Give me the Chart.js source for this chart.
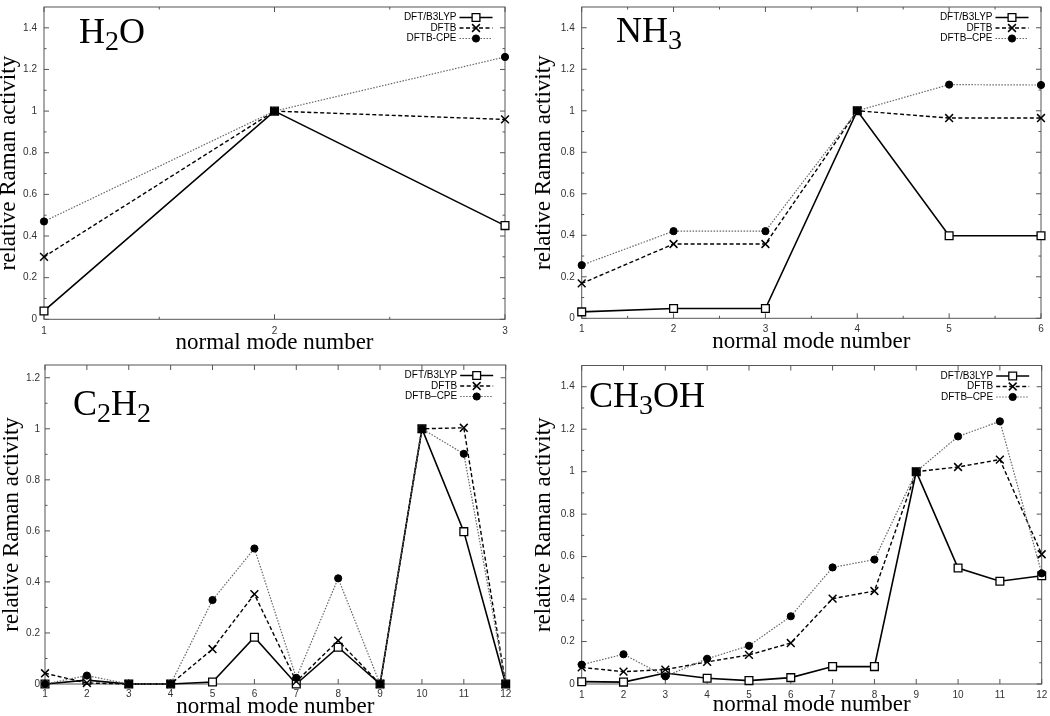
<!DOCTYPE html>
<html lang="en">
<head>
<meta charset="UTF-8">
<title>Relative Raman activity</title>
<script src="https://cdn.jsdelivr.net/npm/chart.js"></script>
<style>
    body { margin: 0; background: #fff; width: 1050px; height: 716px; position: relative; overflow: hidden; }
    canvas { position: absolute; }
    .mol { position: absolute; font-family: "Liberation Serif", "DejaVu Serif", serif; font-size: 36px; line-height: 1; color: #000; white-space: nowrap; }
    .mol span { font-size: 0.78em; position: relative; top: 0.25em; }
</style>
</head>
<body>
<canvas id="h2o" width="525" height="358" style="left:0;top:0"></canvas>
<canvas id="nh3" width="525" height="358" style="left:525px;top:0"></canvas>
<canvas id="c2h2" width="525" height="358" style="left:0;top:358px"></canvas>
<canvas id="ch3oh" width="525" height="358" style="left:525px;top:358px"></canvas>

<div class="mol" style="left:79px;top:12.6px">H<span>2</span>O</div>
<div class="mol" style="left:616px;top:11.6px">NH<span>3</span></div>
<div class="mol" style="left:73px;top:385.2px">C<span>2</span>H<span>2</span></div>
<div class="mol" style="left:589px;top:377.2px">CH<span>3</span>OH</div>

<script>
// series names (first panel uses a plain hyphen, the others a dash)
const namesH2O = ['DFT/B3LYP', 'DFTB', 'DFTB-CPE'];
const namesOther = ['DFT/B3LYP', 'DFTB', 'DFTB\u2013CPE'];

const yTicks14 = [0, 0.2, 0.4, 0.6, 0.8, 1, 1.2, 1.4];
const yTicks12 = [0, 0.2, 0.4, 0.6, 0.8, 1, 1.2];

// H2O
const h2oModes = [1, 2, 3];
const h2oB3lyp = [0.04, 1.0, 0.45];
const h2oDftb = [0.30, 1.0, 0.96];
const h2oCpe = [0.47, 1.0, 1.26];

// NH3
const nh3Modes = [1, 2, 3, 4, 5, 6];
const nh3B3lyp = [0.031, 0.047, 0.047, 1.0, 0.398, 0.398];
const nh3Dftb = [0.168, 0.358, 0.358, 1.0, 0.965, 0.965];
const nh3Cpe = [0.256, 0.42, 0.42, 1.0, 1.126, 1.124];

// C2H2
const c2h2Modes = [1, 2, 3, 4, 5, 6, 7, 8, 9, 10, 11, 12];
const c2h2B3lyp = [0, 0.015, 0, 0, 0.008, 0.183, 0, 0.144, 0, 1.0, 0.597, 0];
const c2h2Dftb = [0.042, 0.004, 0, 0, 0.137, 0.352, 0.01, 0.17, 0, 1.0, 1.004, 0];
const c2h2Cpe = [0, 0.033, 0, 0, 0.329, 0.531, 0.024, 0.414, 0, 1.0, 0.902, 0];

// CH3OH
const ch3ohModes = [1, 2, 3, 4, 5, 6, 7, 8, 9, 10, 11, 12];
const ch3ohB3lyp = [0.011, 0.009, 0.052, 0.027, 0.016, 0.03, 0.082, 0.082, 1.0, 0.546, 0.484, 0.51];
const ch3ohDftb = [0.078, 0.058, 0.068, 0.104, 0.137, 0.193, 0.402, 0.438, 1.0, 1.022, 1.057, 0.611];
const ch3ohCpe = [0.091, 0.14, 0.036, 0.119, 0.18, 0.319, 0.549, 0.586, 1.0, 1.166, 1.237, 0.521];

Chart.defaults.font.family = '"Liberation Sans", Arial, sans-serif';
Chart.defaults.color = '#222';

const serif = '"Liberation Serif", "DejaVu Serif", serif';

// gnuplot-like frame with inward ticks, plus the little legend in the corner
const gnuFrame = {
    id: 'gnuFrame',
    beforeDatasetsDraw(chart, args, opts) {
        const { ctx, chartArea: a, scales: { x, y } } = chart;
        ctx.save();
        ctx.strokeStyle = '#555';
        ctx.lineWidth = 1;
        ctx.setLineDash([]);
        ctx.strokeRect(a.left, a.top, a.right - a.left, a.bottom - a.top);
        ctx.beginPath();
        const yMark = (v, len) => {
            const p = y.getPixelForValue(v);
            ctx.moveTo(a.left, p); ctx.lineTo(a.left + len, p);
            ctx.moveTo(a.right, p); ctx.lineTo(a.right - len, p);
        };
        const xMark = (v, len) => {
            const p = x.getPixelForValue(v);
            ctx.moveTo(p, a.bottom); ctx.lineTo(p, a.bottom - len);
            ctx.moveTo(p, a.top); ctx.lineTo(p, a.top + len);
        };
        y.ticks.forEach(t => yMark(t.value, 5));
        x.ticks.forEach(t => xMark(t.value, 5));
        if (opts.minorY) {
            for (let v = opts.minorY; v < y.max - 1e-6; v += 2 * opts.minorY) yMark(v, 2.5);
        }
        if (opts.minorX) {
            for (let v = x.min + opts.minorX; v < x.max - 1e-6; v += 2 * opts.minorX) xMark(v, 2.5);
        }
        ctx.stroke();
        ctx.restore();
    },
    afterDatasetsDraw(chart) {
        const { ctx, chartArea: a } = chart;
        const sampleRight = a.right - 12.5;
        const sampleLeft = sampleRight - 33;
        const mid = (sampleLeft + sampleRight) / 2;
        ctx.save();
        ctx.font = '10px "Liberation Sans", Arial, sans-serif';
        ctx.textAlign = 'right';
        ctx.textBaseline = 'middle';
        chart.data.datasets.forEach((ds, i) => {
            const yy = a.top + 10.5 + i * 10.5;
            ctx.fillStyle = '#000';
            ctx.fillText(ds.label, sampleLeft - 3, yy);
            ctx.beginPath();
            ctx.setLineDash(ds.borderDash || []);
            ctx.strokeStyle = ds.borderColor;
            ctx.lineWidth = ds.borderWidth;
            ctx.moveTo(sampleLeft, yy);
            ctx.lineTo(sampleRight, yy);
            ctx.stroke();
            ctx.setLineDash([]);
            ctx.strokeStyle = ds.pointBorderColor;
            ctx.fillStyle = ds.pointBackgroundColor;
            ctx.lineWidth = ds.pointBorderWidth;
            const r = ds.pointRadius;
            ctx.beginPath();
            if (ds.pointStyle === 'rect') {
                const s = r * Math.SQRT1_2;
                ctx.rect(mid - s, yy - s, 2 * s, 2 * s);
                ctx.fill(); ctx.stroke();
            } else if (ds.pointStyle === 'crossRot') {
                const s = r * Math.SQRT1_2;
                ctx.moveTo(mid - s, yy - s); ctx.lineTo(mid + s, yy + s);
                ctx.moveTo(mid - s, yy + s); ctx.lineTo(mid + s, yy - s);
                ctx.stroke();
            } else {
                ctx.arc(mid, yy, r, 0, Math.PI * 2);
                ctx.fill(); ctx.stroke();
            }
        });
        ctx.restore();
    }
};

function points(modes, vals) {
    return modes.map((m, i) => ({ x: m, y: vals[i] }));
}

function makePanel(id, names, modes, b3lyp, dftb, cpe, yTicks, p) {
    const datasets = [
        {
            label: names[0], data: points(modes, b3lyp), order: 2,
            borderColor: '#000', borderWidth: 1.6,
            pointStyle: 'rect', pointRadius: 5.5, pointBorderWidth: 1.3,
            pointBackgroundColor: '#fff', pointBorderColor: '#000'
        },
        {
            label: names[1], data: points(modes, dftb), order: 1,
            borderColor: '#000', borderWidth: 1.4, borderDash: [4, 2.5],
            pointStyle: 'crossRot', pointRadius: 5.5, pointBorderWidth: 1.5,
            pointBackgroundColor: '#000', pointBorderColor: '#000'
        },
        {
            label: names[2], data: points(modes, cpe), order: 0,
            borderColor: '#666', borderWidth: 1.2, borderDash: [1.5, 1.5],
            pointStyle: 'circle', pointRadius: 3.6, pointBorderWidth: 1,
            pointBackgroundColor: '#000', pointBorderColor: '#000'
        }
    ];
    datasets.forEach(ds => { ds.clip = false; ds.tension = 0; ds.fill = false; });

    new Chart(document.getElementById(id), {
        type: 'line',
        data: { datasets },
        options: {
            responsive: false,
            animation: false,
            events: [],
            layout: { padding: { left: 0, right: p.padRight, top: p.padTop, bottom: 0 } },
            plugins: {
                legend: { display: false },
                tooltip: { enabled: false },
                gnuFrame: { minorX: p.minorX, minorY: 0.1 }
            },
            scales: {
                x: {
                    type: 'linear',
                    min: modes[0],
                    max: modes[modes.length - 1],
                    grid: { display: false, drawTicks: false },
                    border: { display: false },
                    afterBuildTicks: s => { s.ticks = modes.map(v => ({ value: v })); },
                    afterFit: s => { s.height = p.xHeight; s.paddingLeft = 0; s.paddingRight = 0; },
                    ticks: {
                        font: { size: 10 }, color: '#333', padding: p.xTickPad, maxRotation: 0, autoSkip: false,
                        callback: v => String(v)
                    },
                    title: {
                        display: true, text: 'normal mode number', color: '#000',
                        font: { family: serif, size: 23, lineHeight: 1 },
                        padding: { top: 0, bottom: p.xTitlePad }
                    }
                },
                y: {
                    min: 0,
                    max: p.yMax,
                    grid: { display: false, drawTicks: false },
                    border: { display: false },
                    afterBuildTicks: s => { s.ticks = yTicks.map(v => ({ value: v })); },
                    afterFit: s => { s.width = p.yWidth; s.paddingTop = 0; s.paddingBottom = 0; },
                    ticks: {
                        font: { size: 10 }, color: '#333', padding: p.yTickPad,
                        callback: v => String(Number(v.toFixed(2)))
                    },
                    title: {
                        display: true, text: 'relative Raman activity', color: '#000',
                        font: { family: serif, size: 23, lineHeight: 1 },
                        padding: { top: p.yTitlePad, bottom: 0 }
                    }
                }
            }
        },
        plugins: [gnuFrame]
    });
}

makePanel('h2o', namesH2O, h2oModes, h2oB3lyp, h2oDftb, h2oCpe, yTicks14, {
    yMax: 1.5, yWidth: 44, xHeight: 38.7, padRight: 20, padTop: 1,
    yTickPad: 7, xTickPad: 5.5, yTitlePad: -2.6, xTitlePad: 3.3, minorX: 0.5
});
makePanel('nh3', namesOther, nh3Modes, nh3B3lyp, nh3Dftb, nh3Cpe, yTicks14, {
    yMax: 1.5, yWidth: 56.7, xHeight: 39.7, padRight: 9, padTop: 0.3,
    yTickPad: 7, xTickPad: 4.5, yTitlePad: 7.7, xTitlePad: 4.3, minorX: 0.5
});
makePanel('c2h2', namesOther, c2h2Modes, c2h2B3lyp, c2h2Dftb, c2h2Cpe, yTicks12, {
    yMax: 1.25, yWidth: 45, xHeight: 32, padRight: 19.3, padTop: 6,
    yTickPad: 5, xTickPad: 4, yTitlePad: 0, xTitlePad: -2.5, minorX: 0
});
makePanel('ch3oh', namesOther, ch3ohModes, ch3ohB3lyp, ch3ohDftb, ch3ohCpe, yTicks14, {
    yMax: 1.5, yWidth: 56.7, xHeight: 32, padRight: 8.3, padTop: 7.5,
    yTickPad: 7, xTickPad: 4.8, yTitlePad: 7.4, xTitlePad: -0.5, minorX: 0
});
</script>
</body>
</html>
